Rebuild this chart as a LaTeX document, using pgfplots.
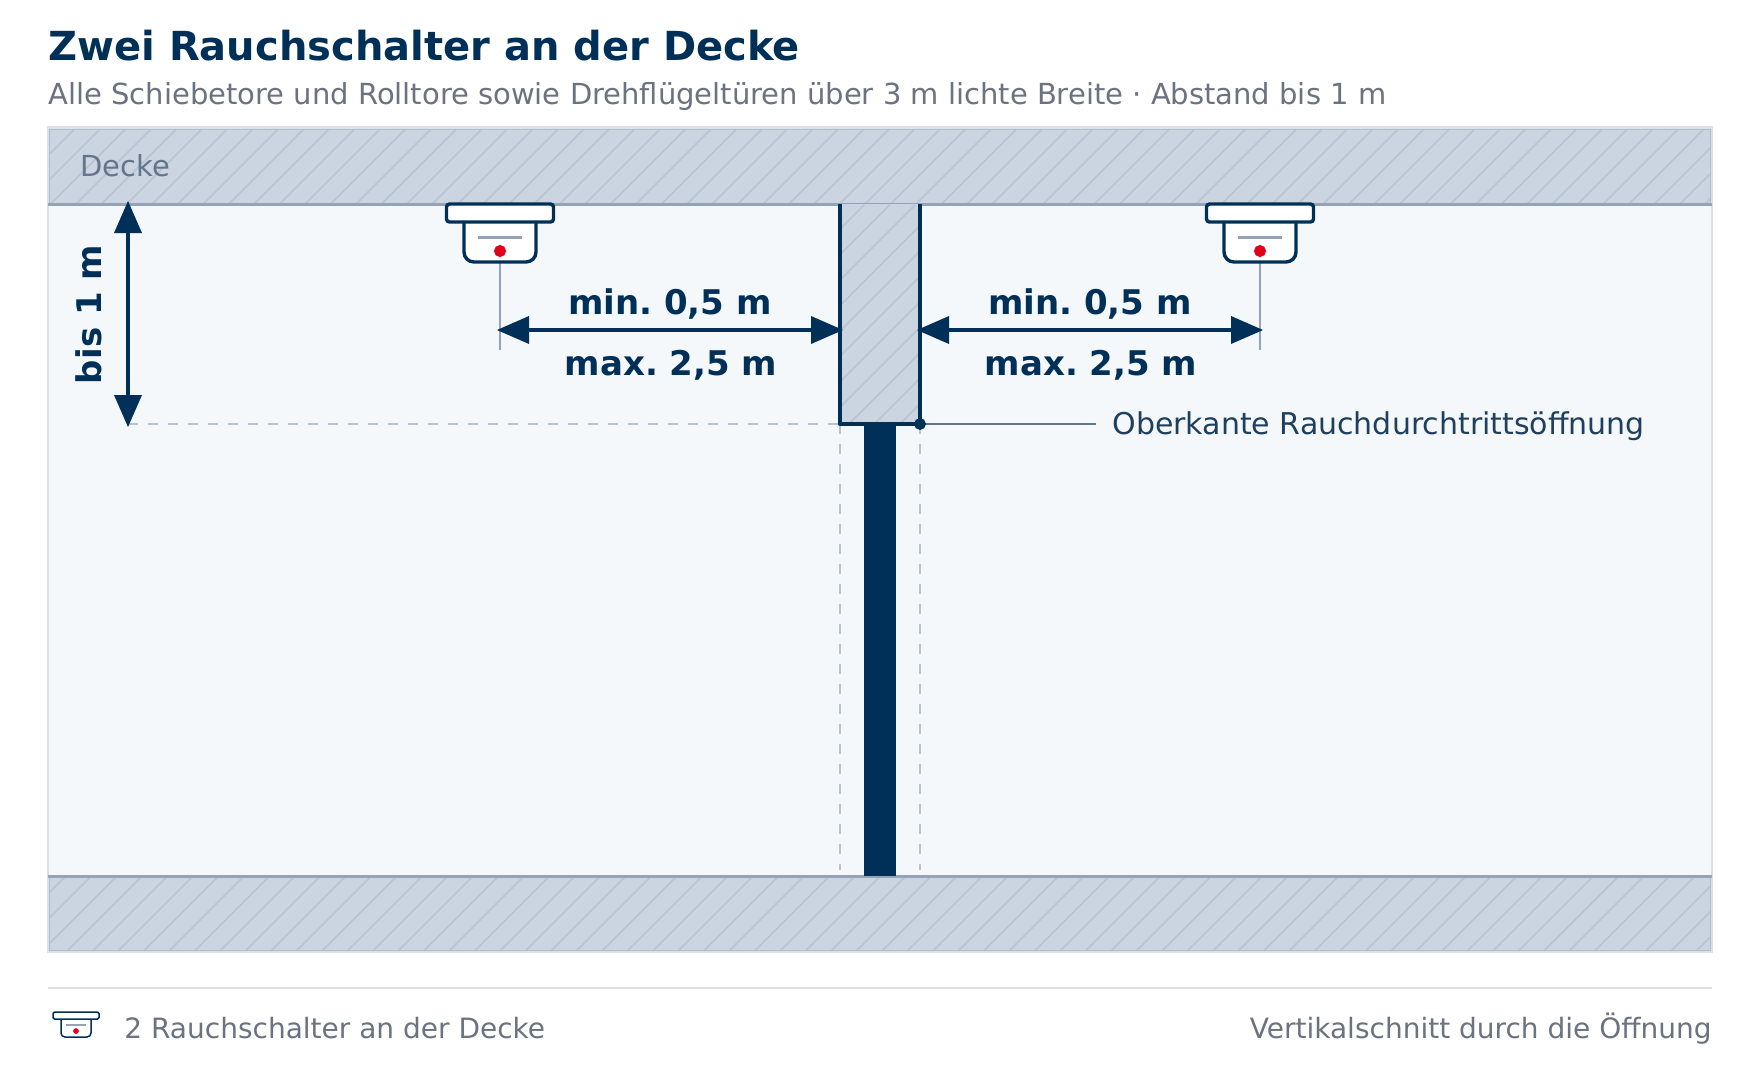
\documentclass[border=0pt]{standalone}
\usepackage{fontspec}
\setmainfont{DejaVu Sans}
\usepackage{pgfplots}
\pgfplotsset{compat=1.18}
\frenchspacing
\definecolor{navy}{HTML}{003057}
\definecolor{slab}{HTML}{CBD5E1}
\definecolor{hatch}{HTML}{B8C5D3}
\definecolor{edge}{HTML}{94A3B8}
\definecolor{thin}{HTML}{B0BDCB}
\definecolor{panel}{HTML}{F5F8FB}
\definecolor{frame}{HTML}{DAE0E8}
\definecolor{grey}{HTML}{6B7280}
\definecolor{deck}{HTML}{64748B}
\definecolor{label}{HTML}{1F3F5F}
\definecolor{dash}{HTML}{B8C2CC}
\definecolor{rot}{HTML}{E2001A}
% hatch: lines x+y = c, clipped to a rectangle
\newcommand{\hatchrect}[4]{%
  \pgfmathsetmacro{\kA}{int(floor((#1+#2)/25.456))}%
  \pgfmathsetmacro{\kB}{int(ceil((#3+#4)/25.456))}%
  \foreach \k in {\kA,...,\kB}{%
    \pgfmathsetmacro{\cc}{\k*25.456+\hatchphase}%
    \pgfmathsetmacro{\xs}{max(#1,\cc-#4)}%
    \pgfmathsetmacro{\xe}{min(#3,\cc-#2)}%
    \pgfmathparse{\xe>\xs?1:0}%
    \ifnum\pgfmathresult=1
      \pgfmathsetmacro{\ys}{\cc-\xs}%
      \pgfmathsetmacro{\ye}{\cc-\xe}%
      \edef\temp{\noexpand\addplot[draw=hatch,line width=0.9pt] coordinates {(\xs,\ys)(\xe,\ye)};}\temp
    \fi
  }%
}
\def\hatchphase{0}
% detector, offset cx
\newcommand{\detector}[1]{%
  \pgfmathsetmacro{\a}{#1-36}\pgfmathsetmacro{\b}{#1+36}%
  \pgfmathsetmacro{\c}{#1-53.5}\pgfmathsetmacro{\d}{#1+53.5}%
  \pgfmathsetmacro{\e}{#1-22}\pgfmathsetmacro{\f}{#1+22}%
  \edef\temp{%
  \noexpand\addplot[draw=edge,line width=0.65pt] coordinates {(#1,262)(#1,350)};
  \noexpand\addplot[draw=navy,fill=white,line width=1.7pt,rounded corners=5pt] coordinates {(\a,215)(\a,262)(\b,262)(\b,215)};
  \noexpand\addplot[draw=navy,fill=white,line width=1.7pt,rounded corners=1.5pt] coordinates {(\c,204)(\d,204)(\d,222)(\c,222)} --cycle;
  \noexpand\addplot[draw=edge,line width=1.5pt] coordinates {(\e,237)(\f,237)};
  \noexpand\addplot[only marks,color=rot,mark=*,mark size=2.8pt] coordinates {(#1,251)};
  }\temp
}
\begin{document}
\begin{tikzpicture}
\begin{axis}[
  scale only axis,width=880pt,height=536pt,
  xmin=0,xmax=1760,ymin=0,ymax=1072,y dir=reverse,
  hide axis,clip=true]
\addplot[draw=none,fill=white] coordinates {(0,0)(1760,0)(1760,1072)(0,1072)} --cycle;
% panel
\addplot[draw=frame,fill=panel,line width=1.25pt] coordinates {(48,127.5)(1712,127.5)(1712,952)(48,952)} --cycle;
% ceiling
\addplot[draw=none,fill=slab] coordinates {(49,129)(1711,129)(1711,204)(49,204)} --cycle;
\hatchrect{49.5}{129.5}{1710.5}{204}
\addplot[draw=thin,line width=0.5pt] coordinates {(49.5,204)(49.5,129.5)(1710.5,129.5)(1710.5,204)};
\addplot[draw=edge,line width=1.5pt] coordinates {(48,204)(1712,204)};
% floor
\addplot[draw=none,fill=slab] coordinates {(49,876)(1711,876)(1711,951)(49,951)} --cycle;
\hatchrect{49.5}{876}{1710.5}{950.7}
\addplot[draw=thin,line width=0.5pt] coordinates {(49.5,876)(49.5,950.7)(1710.5,950.7)(1710.5,876)};
\addplot[draw=edge,line width=1.5pt] coordinates {(48,876)(1712,876)};
% dashed guides
\addplot[draw=dash,line width=0.75pt,dash pattern=on 5pt off 5pt] coordinates {(128,424)(840,424)};
\addplot[draw=dash,line width=0.75pt,dash pattern=on 5pt off 5pt] coordinates {(840,424)(840,870)};
\addplot[draw=dash,line width=0.75pt,dash pattern=on 5pt off 5pt] coordinates {(920,424)(920,870)};
% door leaf
\addplot[draw=none,fill=navy] coordinates {(864,424)(896,424)(896,876)(864,876)} --cycle;
% lintel
\addplot[draw=none,fill=slab] coordinates {(840,204)(920,204)(920,424)(840,424)} --cycle;
\hatchrect{840}{205}{920}{424}
\addplot[draw=navy,line width=1.7pt,line join=round] coordinates {(840,204)(840,424)(920,424)(920,204)};
% leader
\addplot[draw=deck,line width=0.75pt] coordinates {(920,424)(1096,424)};
\addplot[only marks,color=navy,mark=*,mark size=2.75pt] coordinates {(920,424)};
% detectors
\detector{500}
\detector{1260}
% dimension: left
\addplot[draw=navy,line width=1.7pt] coordinates {(525,330)(815,330)};
\addplot[draw=none,fill=navy] coordinates {(497,330)(529,316)(529,344)} --cycle;
\addplot[draw=none,fill=navy] coordinates {(843,330)(811,316)(811,344)} --cycle;
% dimension: right
\addplot[draw=navy,line width=1.7pt] coordinates {(945,330)(1235,330)};
\addplot[draw=none,fill=navy] coordinates {(917,330)(949,316)(949,344)} --cycle;
\addplot[draw=none,fill=navy] coordinates {(1263,330)(1231,316)(1231,344)} --cycle;
% dimension: vertical
\addplot[draw=navy,line width=1.7pt] coordinates {(128,230)(128,400)};
\addplot[draw=none,fill=navy] coordinates {(128,201)(114,233)(142,233)} --cycle;
\addplot[draw=none,fill=navy] coordinates {(128,427)(114,395)(142,395)} --cycle;
% footer
\addplot[draw=frame,line width=1pt] coordinates {(48,988)(1712,988)};
\addplot[draw=navy,fill=white,line width=0.75pt,rounded corners=2pt] coordinates {(61,1017)(61,1037)(91,1037)(91,1017)};
\addplot[draw=navy,fill=white,line width=0.75pt,rounded corners=0.75pt] coordinates {(53,1012)(99,1012)(99,1019)(53,1019)} --cycle;
\addplot[draw=edge,line width=0.6pt] coordinates {(66,1025)(86,1025)};
\addplot[only marks,color=rot,mark=*,mark size=1.2pt] coordinates {(76,1031)};
% texts
\node[anchor=base west,inner sep=0pt,text=navy,font=\fontsize{20}{24}\selectfont\bfseries] at (axis cs:48,60) {Zwei Rauchschalter an der Decke};
\node[anchor=base west,inner sep=0pt,text=grey,font=\fontsize{14.5}{17}\selectfont] at (axis cs:48,104) {Alle Schiebetore und Rolltore sowie Drehflügeltüren über 3 m lichte Breite · Abstand bis 1 m};
\node[anchor=base west,inner sep=0pt,text=deck,font=\fontsize{14.5}{17}\selectfont] at (axis cs:80,176) {Decke};
\node[anchor=base,inner sep=0pt,text=navy,font=\fontsize{17}{20}\selectfont\bfseries] at (axis cs:670,314) {min. 0,5 m};
\node[anchor=base,inner sep=0pt,text=navy,font=\fontsize{17}{20}\selectfont\bfseries] at (axis cs:671,375) {max. 2,5 m};
\node[anchor=base,inner sep=0pt,text=navy,font=\fontsize{17}{20}\selectfont\bfseries] at (axis cs:1090,314) {min. 0,5 m};
\node[anchor=base,inner sep=0pt,text=navy,font=\fontsize{17}{20}\selectfont\bfseries] at (axis cs:1091,375) {max. 2,5 m};
\node[anchor=base,rotate=90,inner sep=0pt,text=navy,font=\fontsize{17}{20}\selectfont\bfseries] at (axis cs:101,314.5) {bis 1 m};
\node[anchor=base west,inner sep=0pt,text=label,font=\fontsize{15}{18}\selectfont] at (axis cs:1112,434) {Oberkante Rauchdurchtrittsöffnung};
\node[anchor=base west,inner sep=0pt,text=grey,font=\fontsize{14}{17}\selectfont] at (axis cs:124,1038) {2 Rauchschalter an der Decke};
\node[anchor=base east,inner sep=0pt,text=grey,font=\fontsize{14}{17}\selectfont] at (axis cs:1712,1038) {Vertikalschnitt durch die Öffnung};
\end{axis}
\end{tikzpicture}
\end{document}
